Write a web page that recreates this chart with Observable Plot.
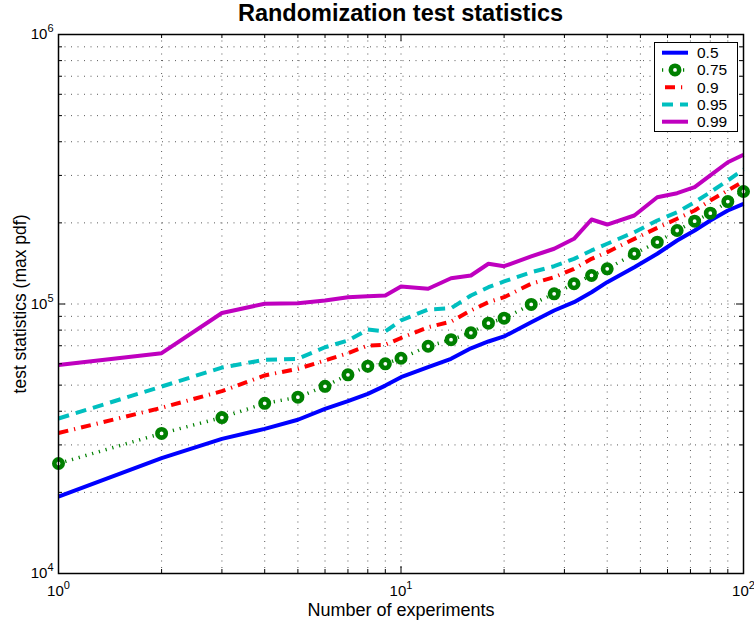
<!DOCTYPE html>
<html>
<head>
<meta charset="utf-8">
<script src="https://cdn.jsdelivr.net/npm/d3@7"></script>
<script src="https://cdn.jsdelivr.net/npm/@observablehq/plot@0.6"></script>
<style>
  body { margin: 0; background: #fff; font-family: "Liberation Sans", Arial, Helvetica, sans-serif; }
  #wrap { position: relative; width: 754px; height: 626px; background: #fff; }
  #title { width: 685px; margin-left: 58px; height: 26px; line-height: 26px; text-align: center;
           font-weight: bold; font-size: 23.5px; color: #000; white-space: nowrap; }
  #chart svg { display: block; }
  #legend { position: absolute; left: 654px; top: 42px; }
</style>
</head>
<body>
<div id="wrap">
  <div id="title">Randomization test statistics</div>
  <div id="chart"></div>
  <div id="legend"></div>
</div>
<script>
// ---------- data ----------
const experiments = [1, 2, 3, 4, 5, 6, 7, 8, 9, 10, 12, 14, 16, 18, 20, 24, 28, 32, 36, 40, 48, 56, 64, 72, 80, 90, 100];
const q050 = [19300, 26800, 31600, 34400, 37200, 40800, 43600, 46400, 49800, 53500, 58300, 62600, 68500, 72600, 75800, 85600, 94600, 101600, 110600, 120500, 136900, 153600, 172000, 187400, 204100, 222300, 235400];
const q075 = [25600, 33100, 37900, 42800, 45100, 49500, 54600, 58800, 60000, 62900, 69700, 73700, 78200, 84900, 88600, 99600, 109100, 118900, 127600, 135100, 153600, 169600, 187400, 202900, 217300, 240000, 261500];
const q090 = [33200, 41200, 47500, 54300, 57500, 61700, 65700, 70100, 70600, 74800, 82000, 86100, 94600, 101600, 106000, 118900, 125700, 135100, 147100, 155700, 174500, 191700, 207100, 222300, 242100, 263800, 284900];
const q095 = [37600, 49400, 58100, 62100, 62600, 69100, 73200, 80400, 79100, 86900, 95400, 96500, 107500, 115400, 121200, 131200, 138100, 147100, 158000, 167300, 184700, 204100, 219100, 238600, 259900, 287300, 315600];
const q099 = [59400, 65700, 92600, 100200, 100700, 103000, 106000, 106900, 107500, 116100, 113900, 124600, 127600, 141000, 138100, 150100, 160300, 174500, 205800, 197200, 213000, 249000, 257700, 271300, 299900, 335800, 357800];
const seriesNames = ["0.5", "0.75", "0.9", "0.95", "0.99"];
const seriesValues = [q050, q075, q090, q095, q099];

const xMajor = [1, 10, 100];
const yMajor = [1e4, 1e5, 1e6];
const xMinor = [2, 3, 4, 5, 6, 7, 8, 9, 20, 30, 40, 50, 60, 70, 80, 90];
const yMinor = [2e4, 3e4, 4e4, 5e4, 6e4, 7e4, 8e4, 9e4, 2e5, 3e5, 4e5, 5e5, 6e5, 7e5, 8e5, 9e5];
const xGrid = [2, 3, 4, 5, 6, 7, 8, 9, 10, 20, 30, 40, 50, 60, 70, 80, 90];
const yGrid = [2e4, 3e4, 4e4, 5e4, 6e4, 7e4, 8e4, 9e4, 1e5, 2e5, 3e5, 4e5, 5e5, 6e5, 7e5, 8e5, 9e5];

const xLabel = "Number of experiments";
const yLabel = "test statistics (max pdf)";

// ---------- styles ----------
const styles = {
  "0.5":  {stroke: "#0000ff", strokeWidth: 4, dash: null, cap: "butt"},
  "0.75": {stroke: "#008000", strokeWidth: 3.5, dash: "1.2,5.8", cap: "butt", marker: true},
  "0.9":  {stroke: "#ff0000", strokeWidth: 4, dash: "10,6,1.2,6", cap: "butt"},
  "0.95": {stroke: "#00bfbf", strokeWidth: 4, dash: "11,7", cap: "butt"},
  "0.99": {stroke: "#bf00bf", strokeWidth: 4, dash: null, cap: "butt"}
};

const W = 754, H = 600, mt = 8, mr = 11, mb = 53, ml = 58;
const plotH = H - mt - mb;
const plotW = W - ml - mr;

const series = seriesNames.map((name, k) => ({
  name,
  rows: experiments.map((x, i) => ({x, y: seriesValues[k][i]}))
}));

const lineMarks = [];
for (const s of series) {
  const st = styles[s.name];
  lineMarks.push(Plot.line(s.rows, {
    x: "x", y: "y", stroke: st.stroke, strokeWidth: st.strokeWidth,
    strokeDasharray: st.dash, strokeLinecap: st.cap, strokeLinejoin: "round"
  }));
  if (st.marker) {
    lineMarks.push(Plot.dot(s.rows, {x: "x", y: "y", r: 4.2, fill: "#fff", stroke: st.stroke, strokeWidth: 4.6}));
  }
}

const gridStyle = {stroke: "#222", strokeWidth: 1, strokeDasharray: "1,5.5", strokeOpacity: 0.75};
const tickStyle = {stroke: "#000", strokeWidth: 1};
const fmt = d => "10^" + Math.round(Math.log10(d));

const chart = Plot.plot({
  width: W, height: H,
  marginTop: mt, marginRight: mr, marginBottom: mb, marginLeft: ml,
  style: {fontFamily: '"Liberation Sans", Arial, Helvetica, sans-serif', fontSize: "15px", color: "#000", background: "#fff", overflow: "visible"},
  x: {type: "log", domain: [1, 100], label: null},
  y: {type: "log", domain: [1e4, 1e6], label: null},
  marks: [
    Plot.ruleX(xGrid, gridStyle),
    Plot.ruleY(yGrid, gridStyle),
    ...lineMarks,
    // inward ticks on all four sides
    Plot.tickX(xMajor, {x: d => d, insetTop: plotH - 7, ...tickStyle}),
    Plot.tickX(xMajor, {x: d => d, insetBottom: plotH - 7, ...tickStyle}),
    Plot.tickX(xMinor, {x: d => d, insetTop: plotH - 4, ...tickStyle}),
    Plot.tickX(xMinor, {x: d => d, insetBottom: plotH - 4, ...tickStyle}),
    Plot.tickY(yMajor, {y: d => d, insetRight: plotW - 7, ...tickStyle}),
    Plot.tickY(yMajor, {y: d => d, insetLeft: plotW - 7, ...tickStyle}),
    Plot.tickY(yMinor, {y: d => d, insetRight: plotW - 4, ...tickStyle}),
    Plot.tickY(yMinor, {y: d => d, insetLeft: plotW - 4, ...tickStyle}),
    Plot.frame({stroke: "#000", strokeWidth: 1.5}),
    Plot.axisX(xMajor, {tickSize: 0, tickPadding: 12, tickFormat: fmt, label: null, fontSize: 15}),
    Plot.axisY(yMajor, {tickSize: 0, tickPadding: 5, tickFormat: fmt, label: null, fontSize: 15}),
    Plot.text([xLabel], {frameAnchor: "bottom", lineAnchor: "middle", textAnchor: "middle", dy: 36.5, fontSize: 18, fill: "#000"}),
    Plot.text([yLabel], {frameAnchor: "left", lineAnchor: "middle", textAnchor: "middle", rotate: -90, dx: -38, fontSize: 17.5, fill: "#000"})
  ]
});
document.getElementById("chart").appendChild(chart);

// superscript exponents on the tick labels
d3.select(chart).selectAll('g[aria-label="x-axis tick label"] text, g[aria-label="y-axis tick label"] text').each(function () {
  const t = d3.select(this);
  const s = t.text();
  if (!s.includes("^")) return;
  const [b, e] = s.split("^");
  t.text(null);
  t.append("tspan").text(b);
  t.append("tspan").attr("dy", "-7").attr("font-size", "11px").text(e);
});

// legend (inside the axes, top-right)
const lg = d3.select("#legend").append("svg").attr("width", 84).attr("height", 90)
  .style("font-family", '"Liberation Sans", Arial, Helvetica, sans-serif');
lg.append("rect").attr("x", 0.5).attr("y", 0.5).attr("width", 83).attr("height", 89)
  .attr("fill", "#fff").attr("stroke", "#000").attr("stroke-width", 1);
seriesNames.forEach((name, i) => {
  const st = styles[name];
  const y = 10.7 + i * 17.25;
  lg.append("line").attr("x1", 8).attr("x2", 34).attr("y1", y).attr("y2", y)
    .attr("stroke", st.stroke).attr("stroke-width", st.strokeWidth)
    .attr("stroke-dasharray", st.dash).attr("stroke-linecap", st.cap)
    .attr("stroke-dashoffset", name === "0.9" ? -3 : 0);
  if (st.marker) {
    lg.append("circle").attr("cx", 21).attr("cy", y).attr("r", 4.2)
      .attr("fill", "#fff").attr("stroke", st.stroke).attr("stroke-width", 4.6);
  }
  lg.append("text").attr("x", 43).attr("y", y).attr("dy", "0.35em")
    .attr("font-size", "15.5px").attr("fill", "#000").text(name);
});
</script>
</body>
</html>
